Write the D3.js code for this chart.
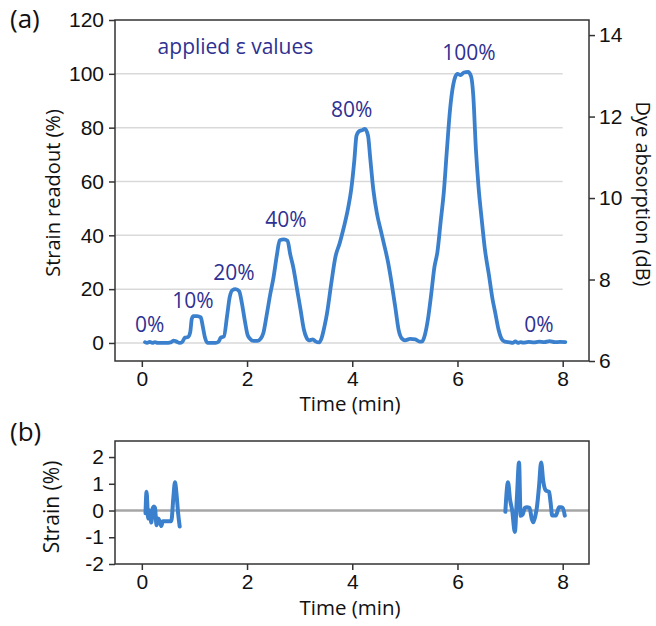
<!DOCTYPE html>
<html>
<head>
<meta charset="utf-8">
<script src="https://cdn.jsdelivr.net/npm/d3@7"></script>
<style>
  body { margin: 0; background: #fff; }
  svg { font-family: "Open Sans", sans-serif; }
  .axis path, .axis line { stroke: #333; stroke-width: 1.5; }
  .axis text { fill: #111; font-size: 21px; }
</style>
</head>
<body>
<div id="chart"></div>
<script>
// time (min) and strain readout (%) of the main trace
var timeMain = [0.06, 0.1, 0.15, 0.2, 0.25, 0.3, 0.45, 0.55, 0.6, 0.65, 0.72, 0.77, 0.82, 0.88, 0.92, 0.95, 0.98, 1.05, 1.12, 1.16, 1.2, 1.25, 1.3, 1.4, 1.46, 1.5, 1.56, 1.62, 1.67, 1.72, 1.78, 1.85, 1.9, 1.96, 2.01, 2.06, 2.12, 2.2, 2.26, 2.31, 2.37, 2.44, 2.5, 2.57, 2.62, 2.7, 2.77, 2.82, 2.88, 2.95, 3.02, 3.08, 3.13, 3.18, 3.25, 3.3, 3.37, 3.42, 3.47, 3.52, 3.6, 3.68, 3.76, 3.84, 3.92, 3.98, 4.04, 4.08, 4.12, 4.18, 4.24, 4.3, 4.34, 4.4, 4.47, 4.54, 4.6, 4.68, 4.75, 4.82, 4.88, 4.95, 5.0, 5.1, 5.2, 5.28, 5.33, 5.38, 5.44, 5.5, 5.56, 5.62, 5.68, 5.74, 5.8, 5.86, 5.92, 5.96, 6.0, 6.06, 6.12, 6.2, 6.26, 6.3, 6.35, 6.4, 6.46, 6.52, 6.6, 6.66, 6.72, 6.78, 6.84, 6.9, 7.0, 7.05, 7.1, 7.15, 7.2, 7.25, 7.35, 7.45, 7.55, 7.65, 7.75, 7.85, 7.95, 8.05];
var strainMain = [0.3, 0, 0.4, 0, 0.3, 0, 0, 0.2, 0.9, 0.6, 0, 0.4, 2, 2.2, 4, 9, 10, 10, 9.5, 6, 2, 0, 0, 0, 0.5, 2, 2.4, 10, 17, 19.6, 20, 19.2, 15, 8, 3, 1.5, 0.8, 0.8, 1.6, 3.7, 10, 18, 24, 33, 38.2, 38.5, 38, 33, 28, 20, 12, 5, 2, 1, 1.3, 0.6, 0.2, 2, 6, 11, 22, 32, 37, 43, 50, 57, 68, 77, 78.5, 79, 79.5, 77, 69, 57, 48, 42, 37, 30, 22, 13, 5, 1.5, 1, 1.5, 1.3, 0.5, 0.6, 3, 9, 18, 28, 34, 45, 56, 72, 87, 96, 99, 100, 99.5, 100.5, 100.7, 99, 92, 72, 58, 46, 35, 25, 17, 11, 5, 1.5, 0.5, 0.2, 0, 0.6, 0, 0.3, 0.1, 0.4, 0.2, 0.5, 0.3, 0.7, 0.3, 0.4, 0.3];

// residual strain (%) in the two rest periods
var timeResA = [0.07, 0.09, 0.12, 0.15, 0.18, 0.21, 0.23, 0.25, 0.28, 0.31, 0.34, 0.37, 0.4, 0.45, 0.5, 0.56, 0.6, 0.63, 0.66, 0.69, 0.72];
var strainResA = [-0.1, 0.7, -0.3, 0.0, -0.45, 0.1, 0.15, 0.1, -0.55, -0.3, -0.4, -0.58, -0.4, -0.4, -0.4, -0.4, 0.5, 1.06, 0.6, -0.1, -0.6];
var timeResB = [6.91, 6.96, 7.0, 7.04, 7.09, 7.13, 7.17, 7.2, 7.24, 7.28, 7.32, 7.37, 7.41, 7.44, 7.48, 7.51, 7.55, 7.59, 7.63, 7.68, 7.74, 7.77, 7.8, 7.87, 7.93, 7.97, 8.0, 8.04];
var strainResB = [-0.05, 1.06, 0.4, 0.0, -0.8, 0.5, 1.8, -0.2, -0.15, 0.1, 0.12, 0.1, -0.3, -0.44, -0.2, 0.12, 0.9, 1.8, 1.1, 0.75, 0.7, 0.3, -0.19, -0.19, 0.12, 0.12, 0.1, -0.19];

// applied strain labels and where they sit (time, strain readout)
var stepLabels = ["0%", "10%", "20%", "40%", "80%", "100%", "0%"];
var stepTime = [0.15, 0.97, 1.75, 2.74, 3.99, 6.22, 7.55];
var stepLevel = [4.1, 13, 23.4, 43, 84, 105, 4.1];

var timeTicks = [0, 2, 4, 6, 8];
var strainTicks = [0, 20, 40, 60, 80, 100, 120];
var gridTicks = [0, 20, 40, 60, 80, 100];
var dyeTicks = [6, 8, 10, 12, 14];
var resTicks = [-2, -1, 0, 1, 2];

var W = 656, H = 626;
var blue = "#3a80cd", ink = "#2e3192";
var plain = function(d) { return String(d); };

var svg = d3.select("#chart").append("svg")
  .attr("width", W).attr("height", H);

var x = d3.scaleLinear().domain([-0.51, 8.5]).range([115, 589]);
var y = d3.scaleLinear().domain([-6.7, 120]).range([361, 20]);
var yDye = d3.scaleLinear().domain([6, 14.37]).range([361, 20]);
var yRes = d3.scaleLinear().domain([-2, 2.6]).range([564, 441]);

// ---- panel (a)
var panelA = svg.append("g");

panelA.selectAll(".grid").data(gridTicks).enter().append("line")
  .attr("x1", x.range()[0]).attr("x2", x(8))
  .attr("y1", function(d) { return y(d); }).attr("y2", function(d) { return y(d); })
  .attr("stroke", "#d9d9d9").attr("stroke-width", 1.5);

panelA.append("rect")
  .attr("x", 115).attr("y", 20).attr("width", 474).attr("height", 341)
  .attr("fill", "none").attr("stroke", "#333").attr("stroke-width", 1.5);

panelA.append("g").attr("class", "axis").attr("transform", "translate(0,361)")
  .call(d3.axisBottom(x).tickValues(timeTicks).tickFormat(plain).tickSize(6).tickSizeOuter(0).tickPadding(4))
  .call(function(g) { g.select(".domain").remove(); });

panelA.append("g").attr("class", "axis").attr("transform", "translate(115,0)")
  .call(d3.axisLeft(y).tickValues(strainTicks).tickFormat(plain).tickSize(6).tickSizeOuter(0).tickPadding(5))
  .call(function(g) { g.select(".domain").remove(); });

panelA.append("g").attr("class", "axis").attr("transform", "translate(589,0)")
  .call(d3.axisRight(yDye).tickValues(dyeTicks).tickFormat(plain).tickSize(6).tickSizeOuter(0).tickPadding(4))
  .call(function(g) { g.select(".domain").remove(); });

var lineMain = d3.line()
  .x(function(d) { return x(timeMain[d]); })
  .y(function(d) { return y(strainMain[d]); })
  .curve(d3.curveMonotoneX);

panelA.append("path")
  .attr("d", lineMain(d3.range(timeMain.length)))
  .attr("fill", "none").attr("stroke", blue).attr("stroke-width", 3.8)
  .attr("stroke-linejoin", "round").attr("stroke-linecap", "round");

panelA.selectAll(".step").data(stepLabels).enter().append("text")
  .attr("x", function(d, i) { return x(stepTime[i]); })
  .attr("y", function(d, i) { return y(stepLevel[i]); })
  .attr("text-anchor", "middle").attr("fill", ink).attr("font-size", 21)
  .text(function(d) { return d; });

panelA.append("text")
  .attr("x", x(0.3)).attr("y", y(107.5))
  .attr("fill", ink).attr("font-size", 21)
  .text("applied \u03b5 values");

panelA.append("text")
  .attr("transform", "translate(60,193) rotate(-90)")
  .attr("text-anchor", "middle").attr("font-size", 20).attr("fill", "#111")
  .text("Strain readout (%)");

panelA.append("text")
  .attr("transform", "translate(636,194) rotate(90)")
  .attr("text-anchor", "middle").attr("font-size", 20).attr("fill", "#111")
  .text("Dye absorption (dB)");

panelA.append("text")
  .attr("x", 350).attr("y", 411)
  .attr("text-anchor", "middle").attr("font-size", 20.5).attr("fill", "#111")
  .text("Time (min)");

svg.append("text").attr("x", 10).attr("y", 28).attr("font-size", 26).attr("fill", "#111").text("(a)");

// ---- panel (b)
var panelB = svg.append("g");

panelB.append("line")
  .attr("x1", 115).attr("x2", 589)
  .attr("y1", yRes(0)).attr("y2", yRes(0))
  .attr("stroke", "#a6a6a6").attr("stroke-width", 2.5);

panelB.append("rect")
  .attr("x", 115).attr("y", 441).attr("width", 474).attr("height", 123)
  .attr("fill", "none").attr("stroke", "#333").attr("stroke-width", 1.5);

panelB.append("g").attr("class", "axis").attr("transform", "translate(0,564)")
  .call(d3.axisBottom(x).tickValues(timeTicks).tickFormat(plain).tickSize(6).tickSizeOuter(0).tickPadding(4))
  .call(function(g) { g.select(".domain").remove(); });

panelB.append("g").attr("class", "axis").attr("transform", "translate(115,0)")
  .call(d3.axisLeft(yRes).tickValues(resTicks).tickFormat(plain).tickSize(6).tickSizeOuter(0).tickPadding(5))
  .call(function(g) { g.select(".domain").remove(); });

var lineRes = d3.line().curve(d3.curveMonotoneX);

[[timeResA, strainResA], [timeResB, strainResB]].forEach(function(s) {
  panelB.append("path")
    .attr("d", lineRes(s[0].map(function(t, i) { return [x(t), yRes(s[1][i])]; })))
    .attr("fill", "none").attr("stroke", blue).attr("stroke-width", 4)
    .attr("stroke-linejoin", "round").attr("stroke-linecap", "round");
});

panelB.append("text")
  .attr("transform", "translate(59,507) rotate(-90)")
  .attr("text-anchor", "middle").attr("font-size", 21).attr("fill", "#111")
  .text("Strain (%)");

panelB.append("text")
  .attr("x", 350).attr("y", 615)
  .attr("text-anchor", "middle").attr("font-size", 20.5).attr("fill", "#111")
  .text("Time (min)");

svg.append("text").attr("x", 10).attr("y", 441).attr("font-size", 26).attr("fill", "#111").text("(b)");
</script>
</body>
</html>
